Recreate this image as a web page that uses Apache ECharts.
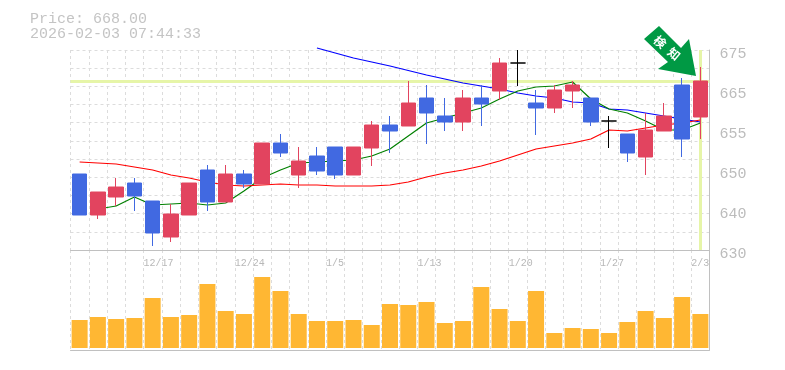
<!DOCTYPE html>
<html>
<head>
<meta charset="utf-8">
<style>html,body{margin:0;padding:0;background:#fff}#chart{width:785px;height:370px}</style>
<script src="https://cdn.jsdelivr.net/npm/echarts@6/dist/echarts.min.js"></script>
</head>
<body>
<div id="chart"></div>
<script>
var dates = ['12/11','12/12','12/15','12/16','12/17','12/18','12/19','12/22','12/23','12/24','12/25','12/26','12/29','12/30','1/5','1/6','1/7','1/8','1/9','1/13','1/14','1/15','1/16','1/19','1/20','1/21','1/22','1/23','1/26','1/27','1/28','1/29','1/30','2/2','2/3'];
var dateTicks = ['12/17','12/24','1/5','1/13','1/20','1/27','2/3'];
var priceLabels = ['630','640','650','655','665','675'];
var lastPrice = 668;
var stamp = '2026-02-03 07:44:33';
var signalChars = ['検', '知'];

// open, close, low, high
var candles = [
	[644.75,634.5,634.5,644.75],[634.5,640.25,633.5,640.25],[639,641.5,636.75,643.75],[642.5,639.25,635.5,643.75],
	[638,630,626.75,638],[629,634.75,627.75,637.25],[634.5,642.5,634.5,642.5],[645.75,637.75,635.5,647],
	[637.75,644.75,637.75,647],[644.75,642.25,641.25,645.75],[642.25,652.5,642.25,652.5],[652.5,650,649,654.75],
	[644.5,648,641.25,651.5],[649.25,645.5,644.5,651.5],[651.5,644.5,643.5,651.5],[644.5,651.5,644.5,651.5],
	[651.25,657,646.75,658],[657,655.5,650,659.25],[656.75,662.5,656.75,668],[663.75,660,652.25,667],
	[659.25,657.75,655.5,663.75],[657.75,663.75,655.5,665.75],[663.75,662.25,656.75,667],[665.5,672.5,663.25,673.75],
	[672.5,672.5,666.75,675.75],[662.5,661.25,654.5,665.75],[661.25,665.75,660,667],[665.5,667,661.25,668],
	[663.75,657.75,656.75,663.75],[658,658,651.25,659.25],[654.75,650,647.75,654.75],[649,655.75,644.5,660],
	[655.5,659.25,655.5,662.5],[667,653.5,649,668.75],[659,668,653.5,671.5]
];
var maShort = [null,636,636.75,639,637,637.25,637.5,637,637.5,640.5,643.75,645.75,647.5,647.75,648,648.25,649.25,651,654.25,657.5,658.75,660,661.25,663.5,665.5,666.5,666.75,667.75,663.5,661,660,658,655.75,655.75,657.5];
var maMid = [647.75,647.5,647.25,646.5,645.75,644.5,643.75,642.75,642,641.75,642,642.25,642,642,641.75,641.75,641.75,642,642.75,644,645,645.75,646.75,648,649.5,651,651.75,652.5,653.5,655.75,655.5,656.25,657,657.5,658.25];
var maLong = [null,null,null,null,null,null,null,null,null,null,null,null,null,676.25,675,673.75,672.75,671.75,670.625,669.5,668.5,667.5,666.75,666,665,664.25,663.75,662.75,662.5,661,660.75,660,659.25,658.5,657.75];
var volumes = [28,31,29,30,50,31,33,64,37,34,71,57,34,27,27,28,23,44,43,46,25,27,61,39,27,57,15,20,19,15,26,37,30,51,34];

var gridLine = { show: true, lineStyle: { color: '#dcdcdc', type: [3, 3], width: 1 } };
var borderLine = { show: true, onZero: false, lineStyle: { color: '#c0c0c0', width: 1 } };
var monoFont = '"Liberation Mono", monospace';

function lineSeries(values, color, extra) {
	return Object.assign({
		type: 'line',
		data: values,
		xAxisIndex: 0,
		yAxisIndex: 0,
		showSymbol: false,
		clip: false,
		silent: true,
		z: 2,
		lineStyle: { color: color, width: 1.2 }
	}, extra);
}

function signalLabel(ch, x, y) {
	return {
		type: 'text',
		z: 101,
		x: x,
		y: y,
		rotation: -0.7,
		style: { text: ch, fill: '#fff', font: 'bold 12px "Noto Sans CJK JP"', align: 'center', verticalAlign: 'middle' }
	};
}

var option = {
	animation: false,
	backgroundColor: '#fff',
	title: {
		text: 'Price: ' + lastPrice.toFixed(2) + '\n' + stamp,
		left: 25,
		top: 7,
		textStyle: { color: '#c4c4c4', fontFamily: monoFont, fontSize: 15, fontWeight: 'normal', lineHeight: 15 }
	},
	grid: [
		{ left: 70.5, width: 639, top: 50, height: 200 },
		{ left: 70.5, width: 639, top: 250, height: 100 }
	],
	xAxis: [
		{ type: 'category', gridIndex: 0, data: dates, axisLine: { show: false }, axisTick: { show: false }, axisLabel: { show: false },
			splitLine: Object.assign({ interval: 0 }, gridLine) },
		{ type: 'category', gridIndex: 1, data: dates, position: 'bottom', axisLine: borderLine, axisTick: { show: false }, axisLabel: { show: false },
			splitLine: Object.assign({ interval: 0 }, gridLine) },
		// date labels start at the left edge of their day
		{ type: 'category', gridIndex: 1, data: dates.concat(['']), boundaryGap: false, position: 'top', axisLine: borderLine, axisTick: { show: false },
			axisLabel: { inside: true, margin: 8, align: 'left', color: '#b8b8b8', fontFamily: monoFont, fontSize: 10,
				interval: function(i, v) { return dateTicks.indexOf(v) >= 0; } } }
	],
	yAxis: [
		{ type: 'value', gridIndex: 0, min: 625.75, max: 675.75, show: false, splitLine: { show: false } },
		{ type: 'value', gridIndex: 0, min: 0, max: 11, interval: 1, position: 'right', axisLine: borderLine, axisTick: { show: false }, axisLabel: { show: false }, splitLine: gridLine },
		{ type: 'value', gridIndex: 0, min: 625, max: 675, interval: 10, position: 'right', axisLine: { show: false }, axisTick: { show: false }, splitLine: { show: false },
			axisLabel: { margin: 10, color: '#bcbcbc', fontFamily: monoFont, fontSize: 15, verticalAlign: 'top', lineHeight: 8,
				formatter: function(v) { return priceLabels[(v - 625) / 10]; } } },
		{ type: 'value', gridIndex: 1, min: -2, max: 98, position: 'right', axisLine: borderLine, axisTick: { show: false }, axisLabel: { show: false }, splitLine: { show: false } }
	],
	series: [
		lineSeries(maLong, '#0000ff'),
		lineSeries(maShort, '#008000', {
			markLine: {
				silent: true,
				z: 1,
				symbol: 'none',
				label: { show: false },
				lineStyle: { color: '#e6f5a8', width: 3, type: 'solid' },
				data: [{ yAxis: lastPrice }, { xAxis: dates.length - 1 }]
			}
		}),
		lineSeries(maMid, '#ff0000'),
		{
			type: 'candlestick',
			data: candles,
			xAxisIndex: 0,
			yAxisIndex: 0,
			barWidth: 15,
			silent: true,
			clip: false,
			z: 3,
			itemStyle: {
				color: '#e2445f', borderColor: '#e2445f',
				color0: '#4169e1', borderColor0: '#4169e1',
				borderColorDoji: '#000', borderWidth: 1
			}
		},
		{
			type: 'bar',
			data: volumes,
			xAxisIndex: 1,
			yAxisIndex: 3,
			barWidth: 16,
			silent: true,
			z: 3,
			itemStyle: { color: '#ffb733' }
		}
	],
	graphic: [
		{
			type: 'polygon',
			z: 100,
			shape: { points: [[659, 26], [644, 39], [668, 62], [658, 69], [696, 76], [689, 39], [681, 48]] },
			style: { fill: '#009944' }
		},
		signalLabel(signalChars[0], 660, 42),
		signalLabel(signalChars[1], 674, 54)
	]
};

var chart = echarts.init(document.getElementById('chart'));
chart.setOption(option);
</script>
</body>
</html>
